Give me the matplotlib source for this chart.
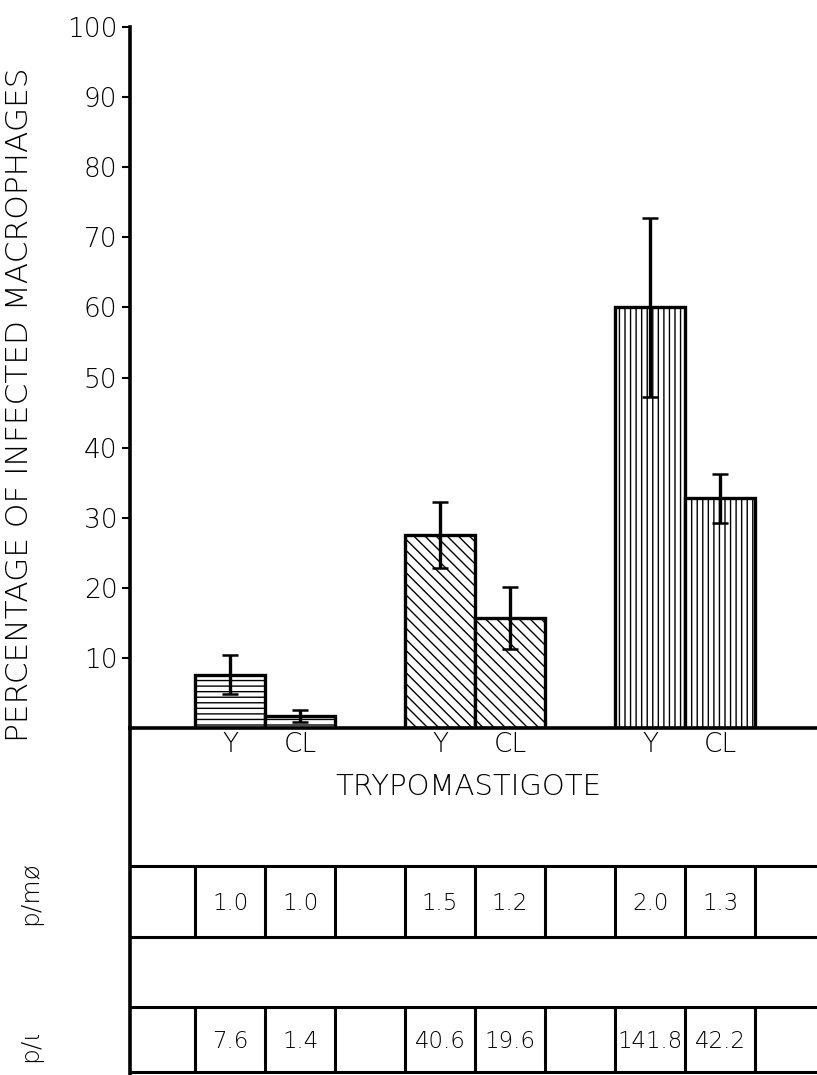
import matplotlib
matplotlib.use('Agg')
import matplotlib.pyplot as plt
import numpy as np

# bar data (percentage of infected macrophages)
groups = ['Y', 'CL', 'Y', 'CL', 'Y', 'CL']
pct = [7.6, 1.7, 27.5, 15.7, 60.0, 32.8]
pct_err = [2.8, 0.9, 4.7, 4.4, 12.8, 3.5]
hatches = ['---', '---', '\\\\\\', '\\\\\\', '|||', '|||']
# table rows
p_mo = ['1.0', '1.0', '1.5', '1.2', '2.0', '1.3']
p_l = ['7.6', '1.4', '40.6', '19.6', '141.8', '42.2']
yticks = [10, 20, 30, 40, 50, 60, 70, 80, 90, 100]

plt.rcParams['font.family'] = ['DejaVu Sans']
plt.rcParams['hatch.linewidth'] = 1.0
FW = 200

W, H = 817, 1075
fig = plt.figure(figsize=(W/100., H/100.), dpi=100)

# bar positions: left edges, 1 unit per bar, a gap of one bar between groups
xleft = np.array([0, 1, 3, 4, 6, 7])
x0 = -0.93
x1 = x0 + 687/70.

ax = fig.add_axes([130./W, 1-728./H, 687./W, (728-27.)/H])
ax.bar(xleft, pct, width=1, align='edge', color='white', edgecolor='k',
       linewidth=2.4, hatch=hatches)
ax.errorbar(xleft+0.5, pct, yerr=pct_err, fmt='none', ecolor='k',
            elinewidth=2.4, capsize=6, capthick=1.8)
ax.set_xlim(x0, x1)
ax.set_ylim(0, 100)
for s in ['top', 'right']:
    ax.spines[s].set_visible(False)
ax.spines['left'].set_linewidth(2.6)
ax.spines['bottom'].set_linewidth(2.6)
ax.set_xticks([])
ax.set_yticks(yticks)
ax.set_yticklabels([str(t) for t in yticks], fontsize=19, fontweight=FW)
ax.tick_params(axis='y', direction='out', length=6, width=1.5, pad=3)

# table below the bars
tab = fig.add_axes([130./W, 1-1074./H, 687./W, (1074-728.)/H], sharex=ax)
tab.set_ylim(1074, 728)
tab.set_xlim(x0, x1)
for s in ['top', 'right', 'bottom']:
    tab.spines[s].set_visible(False)
tab.spines['left'].set_linewidth(2.6)
tab.set_xticks([])
tab.set_yticks([])
tab.patch.set_alpha(0)

for yy in [866, 937, 1007, 1072]:
    tab.axhline(yy, color='k', lw=2.2)
edges = np.arange(0, 9)
tab.vlines(edges, 866, 937, color='k', lw=2.2)
tab.vlines(edges, 1007, 1072, color='k', lw=2.2)

for xl, g, a, b in zip(xleft, groups, p_mo, p_l):
    tab.text(xl+0.5, 745, g, ha='center', va='center', fontsize=19, fontweight=FW)
    tab.text(xl+0.5, 903, a, ha='center', va='center', fontsize=16.5, fontweight=FW)
    tab.text(xl+0.5, 1042, b, ha='center', va='center', fontsize=16.5, fontweight=FW)
tab.text(3.9, 787, 'TRYPOMASTIGOTE', ha='center', va='center', fontsize=21, fontweight=FW)

fig.text(20./W, 1-405./H, 'PERCENTAGE OF INFECTED MACROPHAGES', rotation=90,
         ha='center', va='center', fontsize=22.5, fontweight=FW)
fig.text(30./W, 1-893./H, 'p/m\u00f8', rotation=90, ha='center', va='center',
         fontsize=18, fontweight=FW)
fig.text(30./W, 1-1045./H, 'p/\u03b9', rotation=90, ha='center', va='center',
         fontsize=18, fontweight=FW)

fig.savefig('out.png', dpi=100)
